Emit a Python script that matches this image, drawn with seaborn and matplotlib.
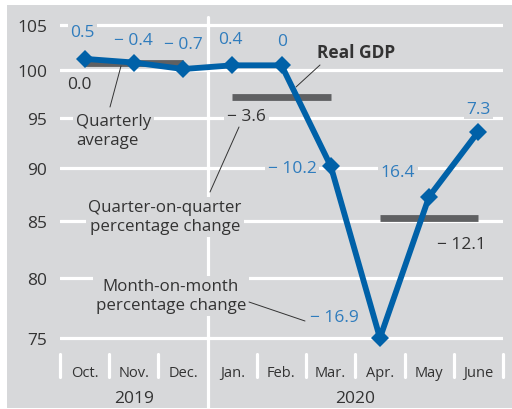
import numpy as np
import pandas as pd
import matplotlib
matplotlib.use('Agg')
import matplotlib.pyplot as plt
from matplotlib.patches import Rectangle
from matplotlib.ticker import FixedLocator, NullLocator
import seaborn as sns

# Data
months = ['Oct.', 'Nov.', 'Dec.', 'Jan.', 'Feb.', 'Mar.', 'Apr.', 'May', 'June']
years = ['2019', '2020']
gdp = [101.2, 100.8, 100.1, 100.5, 100.5, 90.2, 75.0, 87.3, 93.6]
mom_labels = ['0.5', '\u2212 0.4', '\u2212 0.7', '0.4', '0', '\u2212 10.2', '\u2212 16.9', '16.4', '7.3']
quarter_avg = [100.7, 97.1, 85.3]
qoq_labels = ['0.0', '\u2212 3.6', '\u2212 12.1']
y_ticks = [75, 80, 85, 90, 95, 100, 105]

BG = '#d7d8da'
BLUE = '#0061a8'
BLUE_TXT = '#2f7cbd'
BAR = '#5f6062'
TXT = '#333333'
FS = 12.2

sns.set_style('white')
plt.rcParams['font.family'] = ['Open Sans', 'DejaVu Sans']

fig = plt.figure(figsize=(5.12, 4.10), dpi=100)
fig.patches.append(Rectangle((7 / 512, 1 / 410), 505 / 512, 403 / 410,
                             transform=fig.transFigure, facecolor=BG,
                             edgecolor='none', zorder=-10))
ax = fig.add_axes([60 / 512, 1 - 352 / 410, 443 / 512, 334 / 410])
ax.set_facecolor('none')

x = np.arange(len(months))
df = pd.DataFrame({'pos': x, 'gdp': gdp})

# quarterly averages: one bar over each block of three months
qdf = pd.DataFrame({
    'pos': x,
    'quarter': np.repeat(np.arange(len(quarter_avg)), 3),
    'avg': np.repeat(quarter_avg, 3),
})
qdf = qdf.groupby('quarter').nth([0, 2])
sns.lineplot(data=qdf, x='pos', y='avg', units='quarter', estimator=None,
             color=BAR, lw=4.9, solid_capstyle='butt', ax=ax, zorder=2)

sns.lineplot(data=df, x='pos', y='gdp', color=BLUE, lw=4.2, marker='D',
             markersize=9.5, markeredgewidth=0, ax=ax, zorder=5)

ax.set_yscale('log')
ax.set_ylim(73.96, 105.85)
ax.set_xlim(-0.5, len(months) - 0.5)
ax.yaxis.set_major_locator(FixedLocator(y_ticks))
ax.yaxis.set_minor_locator(NullLocator())
ax.set_yticklabels([str(t) for t in y_ticks])
ax.set_xticks(x)
ax.set_xticklabels(months)
ax.tick_params(axis='y', length=0, pad=9, labelsize=12.5, labelcolor=TXT)
ax.tick_params(axis='x', length=0, pad=10, labelsize=10.5, labelcolor=TXT)
ax.set_xlabel('')
ax.set_ylabel('')
for s in ax.spines.values():
    s.set_visible(False)

ax.set_axisbelow(True)
ax.grid(axis='y', color='white', lw=2.3)
ax.grid(axis='x', visible=False)

# year divider and month separators
ax.axvline(2.5, ymin=-0.168, ymax=1, color='white', lw=2.3, clip_on=False, zorder=0.6)
for b in np.arange(-0.5, len(months), 1.0):
    if b != 2.5:
        ax.axvline(b, ymin=-0.078, ymax=-0.009, color='white', lw=2.3, clip_on=False)

tr = ax.get_xaxis_transform()
ax.text(1, -0.14, years[0], transform=tr, ha='center', va='center', fontsize=12.5, color=TXT)
ax.text(5.5, -0.14, years[1], transform=tr, ha='center', va='center', fontsize=12.5, color=TXT)

box = dict(boxstyle='square,pad=0.15', facecolor=BG, edgecolor='none')

# month-on-month labels (offsets in pixels from each point)
mom_off = [(-2, 27, 'center'), (0, 23, 'center'), (0, 25, 'center'), (-2, 26, 'center'),
           (1, 24, 'center'), (-14, -2, 'right'), (-21, 21, 'right'), (-14, 25, 'right'),
           (0, 23, 'center')]
for i, (lab, (dx, dy, ha)) in enumerate(zip(mom_labels, mom_off)):
    ax.annotate(lab, xy=(x[i], gdp[i]), xytext=(dx, dy), textcoords='offset pixels',
                ha=ha, va='center', fontsize=12.5, color=BLUE_TXT, bbox=box, zorder=3)

# quarter-on-quarter labels, anchored at the middle month of each quarter
q_off = [(-54, -21), (-35, -19), (32, -26)]
for q, (lab, (dx, dy)) in enumerate(zip(qoq_labels, q_off)):
    ax.annotate(lab, xy=(3 * q + 1, quarter_avg[q]), xytext=(dx, dy), textcoords='offset pixels',
                ha='center', va='center', fontsize=12.5, color=TXT, bbox=box, zorder=3)


def px(xp, yp):
    return (xp, 410 - yp)


def leader(p0, p1):
    ax.annotate('', xy=px(*p1), xytext=px(*p0), xycoords='figure pixels',
                textcoords='figure pixels',
                arrowprops=dict(arrowstyle='-', lw=0.7, color=TXT, shrinkA=0, shrinkB=0),
                zorder=4)


ax.annotate('Quarterly\naverage', xy=px(76, 132), xycoords='figure pixels', ha='left',
            va='center', fontsize=FS, color=TXT, linespacing=1.25, bbox=box, zorder=3)
leader((110, 108), (121, 67))

ax.annotate('Quarter-on-quarter\npercentage change', xy=px(165, 218), xycoords='figure pixels',
            ha='center', va='center', fontsize=FS, color=TXT, linespacing=1.25, bbox=box, zorder=3)
leader((210, 193), (239, 128))

ax.annotate('Month-on-month\npercentage change', xy=px(171, 297), xycoords='figure pixels',
            ha='center', va='center', fontsize=FS, color=TXT, linespacing=1.25, bbox=box, zorder=3)
leader((249, 303), (305, 322))

ax.annotate('Real GDP', xy=px(356, 53), xycoords='figure pixels', ha='center', va='center',
            fontsize=12.5, fontweight='bold', color=TXT, zorder=3)
leader((296, 88), (320, 66))

fig.savefig('out.png', dpi=100, facecolor='white')
